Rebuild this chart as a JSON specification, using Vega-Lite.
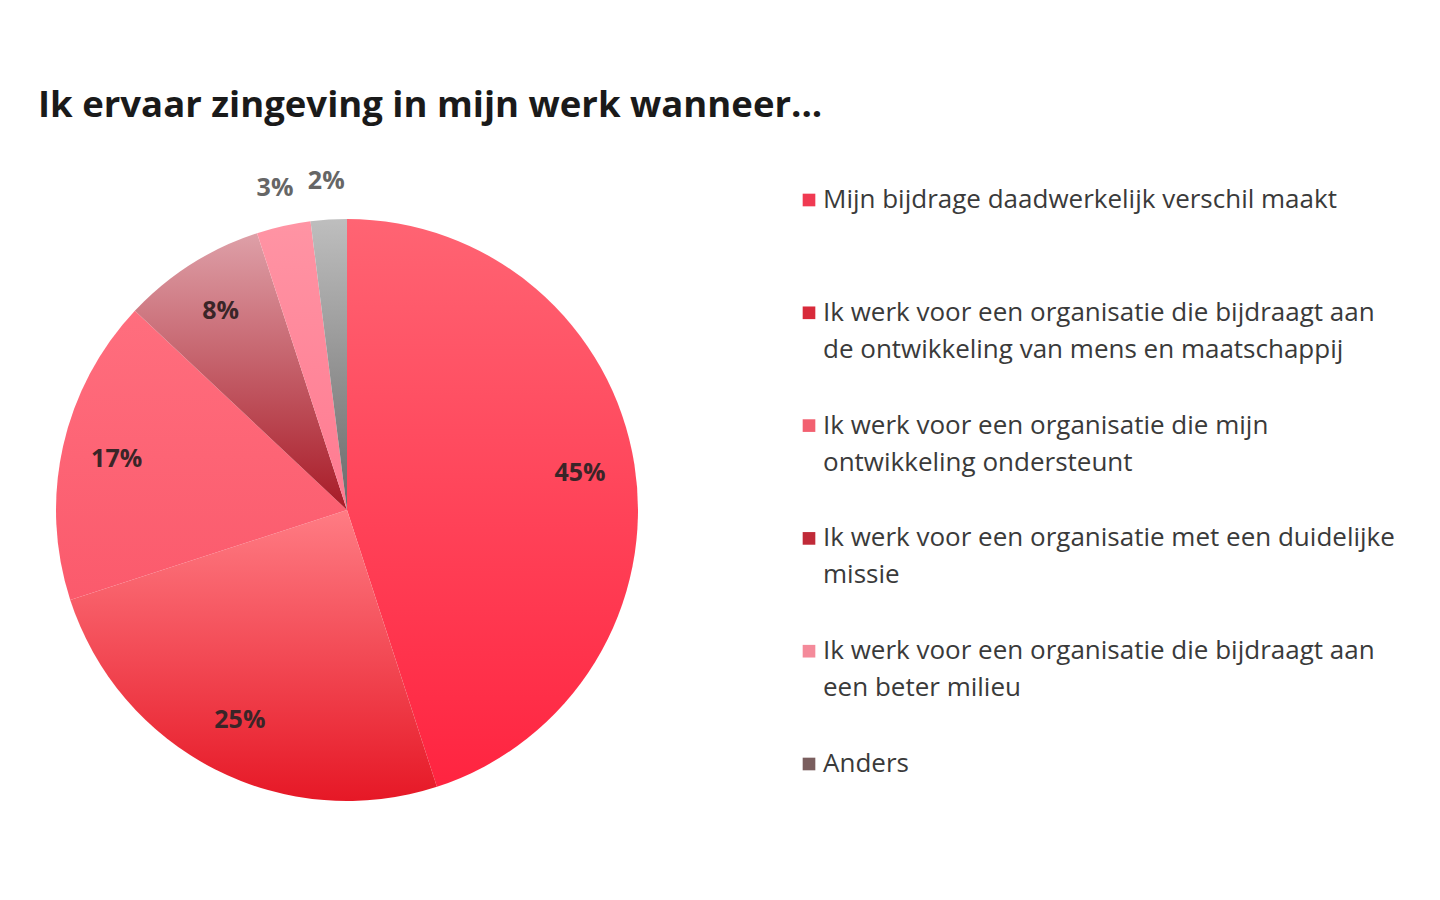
{
  "$schema": "https://vega.github.io/schema/vega-lite/v6.json",
  "description": "Pie chart: Ik ervaar zingeving in mijn werk wanneer...",
  "background": "white",
  "padding": {"left": 38, "top": 88, "right": 0, "bottom": 0},
  "title": {
    "text": "Ik ervaar zingeving in mijn werk wanneer...",
    "anchor": "start",
    "offset": 44,
    "font": "Open Sans",
    "fontSize": 36.5,
    "fontWeight": "bold",
    "color": "#1a1a1a"
  },
  "config": {
    "view": {"stroke": null},
    "font": "Open Sans"
  },
  "datasets": {
    "slices": [
      {"order": 1, "value": 0.45, "category": "Mijn bijdrage daadwerkelijk verschil maakt"},
      {"order": 2, "value": 0.25, "category": "Ik werk voor een organisatie die bijdraagt aan|de ontwikkeling van mens en maatschappij"},
      {"order": 3, "value": 0.17, "category": "Ik werk voor een organisatie die mijn|ontwikkeling ondersteunt"},
      {"order": 4, "value": 0.08, "category": "Ik werk voor een organisatie met een duidelijke|missie"},
      {"order": 5, "value": 0.03, "category": "Ik werk voor een organisatie die bijdraagt aan|een beter milieu"},
      {"order": 6, "value": 0.02, "category": "Anders"}
    ]
  },
  "spacing": 146,
  "hconcat": [
    {
      "width": 618,
      "height": 600,
      "data": {"name": "slices"},
      "transform": [
        {"stack": "value", "groupby": [], "sort": [{"field": "order", "order": "ascending"}], "as": ["v0", "v1"]}
      ],
      "layer": [
        {
          "transform": [{"filter": "datum.order == 1"}],
          "mark": {"type": "arc", "outerRadius": 291, "fill": {"gradient": "linear", "x1": 0, "y1": 0, "x2": 0, "y2": 1, "stops": [{"offset": 0, "color": "#ff6473"}, {"offset": 1, "color": "#ff2440"}]}},
          "encoding": {"theta": {"field": "v0", "type": "quantitative", "scale": {"domain": [0, 1]}}, "theta2": {"field": "v1"}}
        },
        {
          "transform": [{"filter": "datum.order == 2"}],
          "mark": {"type": "arc", "outerRadius": 291, "fill": {"gradient": "linear", "x1": 0, "y1": 0, "x2": 0, "y2": 1, "stops": [{"offset": 0, "color": "#ff7c84"}, {"offset": 1, "color": "#e61826"}]}},
          "encoding": {"theta": {"field": "v0", "type": "quantitative", "scale": {"domain": [0, 1]}}, "theta2": {"field": "v1"}}
        },
        {
          "transform": [{"filter": "datum.order == 3"}],
          "mark": {"type": "arc", "outerRadius": 291, "fill": {"gradient": "linear", "x1": 0, "y1": 0, "x2": 0, "y2": 1, "stops": [{"offset": 0, "color": "#ff6e7e"}, {"offset": 1, "color": "#fb5a6c"}]}},
          "encoding": {"theta": {"field": "v0", "type": "quantitative", "scale": {"domain": [0, 1]}}, "theta2": {"field": "v1"}}
        },
        {
          "transform": [{"filter": "datum.order == 4"}],
          "mark": {"type": "arc", "outerRadius": 291, "fill": {"gradient": "linear", "x1": 0, "y1": 0, "x2": 0, "y2": 1, "stops": [{"offset": 0, "color": "#dea0a8"}, {"offset": 1, "color": "#a81a26"}]}},
          "encoding": {"theta": {"field": "v0", "type": "quantitative", "scale": {"domain": [0, 1]}}, "theta2": {"field": "v1"}}
        },
        {
          "transform": [{"filter": "datum.order == 5"}],
          "mark": {"type": "arc", "outerRadius": 291, "fill": {"gradient": "linear", "x1": 0, "y1": 0, "x2": 0, "y2": 1, "stops": [{"offset": 0, "color": "#ff94a4"}, {"offset": 1, "color": "#ff7a90"}]}},
          "encoding": {"theta": {"field": "v0", "type": "quantitative", "scale": {"domain": [0, 1]}}, "theta2": {"field": "v1"}}
        },
        {
          "transform": [{"filter": "datum.order == 6"}],
          "mark": {"type": "arc", "outerRadius": 291, "fill": {"gradient": "linear", "x1": 0, "y1": 0, "x2": 0, "y2": 1, "stops": [{"offset": 0, "color": "#bebebe"}, {"offset": 1, "color": "#6a6a6a"}]}},
          "encoding": {"theta": {"field": "v0", "type": "quantitative", "scale": {"domain": [0, 1]}}, "theta2": {"field": "v1"}}
        },
        {
          "mark": {"type": "text", "font": "Open Sans", "fontSize": 25, "fontWeight": "bold"},
          "encoding": {
            "theta": {"field": "value", "type": "quantitative", "stack": true, "scale": {"domain": [0, 1]}},
            "order": {"field": "order", "type": "quantitative", "sort": "ascending"},
            "radius": {"field": "value", "type": "quantitative", "scale": {"type": "linear", "domain": [0.03, 0.05], "range": [330, 236], "zero": false, "clamp": true}},
            "color": {"condition": {"test": "datum.value < 0.05", "value": "#666666"}, "value": "#3a2528"},
            "text": {"field": "value", "type": "quantitative", "format": ".0%"}
          }
        }
      ]
    },
    {
      "width": 600,
      "height": 600,
      "data": {"name": "slices"},
      "encoding": {
        "y": {"field": "order", "type": "quantitative", "scale": {"domain": [1.0975, 6.4167], "reverse": true, "zero": false, "nice": false}, "axis": null},
        "x": {"datum": 0, "type": "quantitative", "scale": {"domain": [0, 1]}, "axis": null}
      },
      "layer": [
        {
          "mark": {"type": "square", "size": 160, "filled": true, "opacity": 1, "yOffset": 1},
          "encoding": {
            "color": {
              "field": "order",
              "type": "ordinal",
              "scale": {"domain": [1, 2, 3, 4, 5, 6], "range": ["#f03a52", "#d82a3a", "#f26070", "#c02a38", "#f48a9a", "#7a5e5e"]},
              "legend": null
            }
          }
        },
        {
          "mark": {"type": "text", "align": "left", "baseline": "alphabetic", "dx": 14, "dy": 9, "lineBreak": "|", "lineHeight": 37, "font": "Open Sans", "fontSize": 26, "color": "#3a3a3a"},
          "encoding": {"text": {"field": "category", "type": "nominal"}}
        }
      ]
    }
  ]
}
